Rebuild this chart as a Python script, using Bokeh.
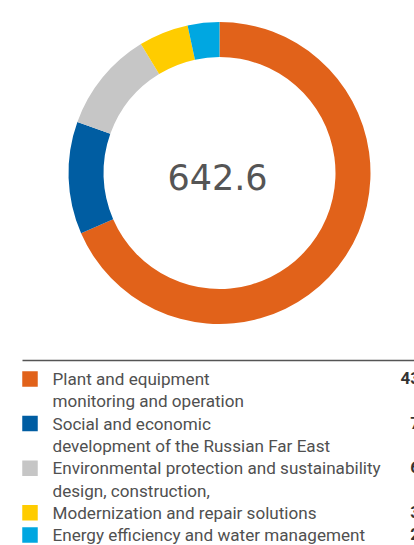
import math
from bokeh.plotting import figure
from bokeh.models import Range1d
from bokeh.core.properties import value
from bokeh.embed import file_html
from bokeh.resources import INLINE

# ---- data ----
categories = [
    "Plant and equipment monitoring and operation",
    "Social and economic development of the Russian Far East",
    "Environmental protection and sustainability design, construction,",
    "Modernization and repair solutions",
    "Energy efficiency and water management",
]
label_lines = [
    ["Plant and equipment", "monitoring and operation"],
    ["Social and economic", "development of the Russian Far East"],
    ["Environmental protection and sustainability", "design, construction,"],
    ["Modernization and repair solutions"],
    ["Energy efficiency and water management"],
]
values = [439.9, 77.3, 69.4, 34.2, 21.8]
value_labels = ["439.9", "77.3", "69.4", "34.2", "21.8"]
total_label = "642.6"
colors = ["#E1621A", "#005DA2", "#C6C6C6", "#FFCC00", "#00A7E1"]

W, H = 414, 545
FONT = "Roboto"

p = figure(width=W, height=H, output_backend="svg", toolbar_location=None,
           x_range=Range1d(0, W), y_range=Range1d(0, H), min_border=0)
p.axis.visible = False
p.grid.visible = False
p.outline_line_color = None
p.background_fill_color = "white"

def Y(page_y):
    return H - page_y

# ---- donut ----
cx, cy = 219, Y(172.5)
r_in, r_out = 116, 151
total = sum(values)
starts, ends = [], []
cum = 0.0
for v in values:
    starts.append(math.pi / 2 - cum / total * 2 * math.pi)
    cum += v
    ends.append(math.pi / 2 - cum / total * 2 * math.pi)
p.annular_wedge(x=[cx] * len(values), y=[cy] * len(values),
                inner_radius=r_in, outer_radius=r_out,
                start_angle=starts, end_angle=ends, direction="clock",
                fill_color=colors, line_color=None)

p.text(x=[217], y=[Y(176)], text=[total_label], text_font=value("DejaVu Sans"),
       text_font_size="35px", text_color="#555555",
       text_align="center", text_baseline="alphabetic")

# ---- legend ----
p.segment(x0=[22], y0=[Y(360)], x1=[W], y1=[Y(360)], line_color="#555555", line_width=1.4)

line_h = 22.3
base0 = 385
shift = 6.5
tx, ty, ttext = [], [], []
sx, sy = [], []
vx, vy, vtext = [], [], []
row = 0
for i, lines in enumerate(label_lines):
    b = base0 + row * line_h
    sx.append(29.5)
    sy.append(Y(b - 6.5))
    vx.append(444)
    vy.append(Y(b - 1 - shift))
    vtext.append(value_labels[i])
    for ln in lines:
        tx.append(52)
        ty.append(Y(base0 + row * line_h - shift))
        ttext.append(ln)
        row += 1

p.rect(x=sx, y=sy, width=15.5, height=15.5, fill_color=colors, line_color=None)
p.text(x=tx, y=ty, text=ttext, text_font=value(FONT), text_font_size="17.1px",
       text_color="#505050", text_baseline="alphabetic", text_align="left")
p.text(x=vx, y=vy, text=vtext, text_font=value(FONT), text_font_size="17px",
       text_font_style="bold", text_color="#333333", text_baseline="alphabetic",
       text_align="right")

open("out.html", "w").write(file_html(p, INLINE))
